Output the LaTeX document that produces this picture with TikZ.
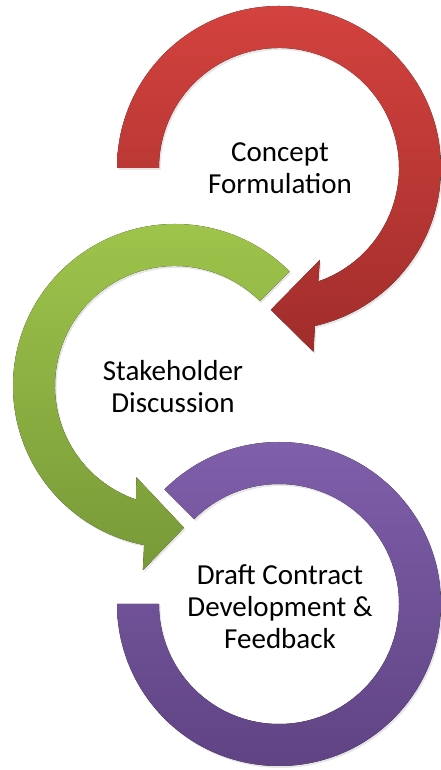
\documentclass[tikz,border=0pt]{standalone}
\usepackage{fontspec}
\setmainfont{Carlito}
\usetikzlibrary{shadows}
\definecolor{redtop}{HTML}{D3423E}
\definecolor{redbot}{HTML}{A12D2B}
\definecolor{greentop}{HTML}{A0C64C}
\definecolor{greenbot}{HTML}{789938}
\definecolor{purpletop}{HTML}{8160AC}
\definecolor{purplebot}{HTML}{5E4282}
\begin{document}
\begin{tikzpicture}[x=1pt, y=1pt,
  arrowshape/.style={drop shadow={shadow xshift=1.5pt, shadow yshift=-2pt, opacity=.2}},
  redarrow/.style={arrowshape, top color=redtop, bottom color=redbot},
  greenarrow/.style={arrowshape, top color=greentop, bottom color=greenbot},
  purplearrow/.style={arrowshape, top color=purpletop, bottom color=purplebot},
  txt/.style={align=center, font=\fontsize{29}{32}\selectfont}]
\useasboundingbox (0,0) rectangle (441,770);
\fill[redarrow, shift={(279,602)}] (180:162) arc[start angle=180, end angle=-77.2, radius=162]
  -- (-79.4:187) -- (-93.3:142) -- (-66:100.5) -- (-70.9:120)
  arc[start angle=-70.9, end angle=180, radius=120] -- cycle;
\fill[greenarrow, shift={(175,384)}] (45:162) arc[start angle=45, end angle=259, radius=162]
  -- (-99.9:187) -- (-86.4:142) -- (-113:99) -- (-108.9:120)
  arc[start angle=251.1, end angle=45, radius=120] -- cycle;
\fill[purplearrow, shift={(279,166)}] (135:162) arc[start angle=135, end angle=-180, radius=162]
  -- (180:120) arc[start angle=-180, end angle=135, radius=120] -- cycle;
\node[txt] (T_0) at (280,602) {Concept\\Formulation};
\node[txt] (T_1) at (173,383) {Stakeholder\\Discussion};
\node[txt] (T_2) at (280,163) {Draft Contract\\Development \&\\Feedback};
\end{tikzpicture}
\end{document}
